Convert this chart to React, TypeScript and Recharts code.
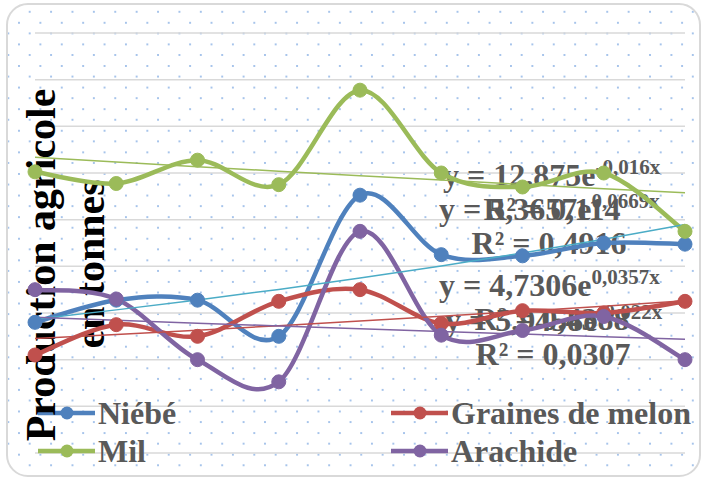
import React from 'react';
import { LineChart, Line, XAxis, YAxis, CartesianGrid, Customized } from 'recharts';

// ---- data ----
const categories = ['1', '2', '3', '4', '5', '6', '7', '8', '9'];
const niebe = [5.6, 6.55, 6.55, 5.0, 11.05, 8.5, 8.45, 9.0, 8.95];
const graines = [4.2, 5.5, 5.0, 6.5, 7.0, 5.55, 6.1, 6.0, 6.5];
const mil = [12.05, 11.55, 12.55, 11.5, 15.55, 12.0, 11.4, 12.0, 9.5];
const arachide = [7.0, 6.6, 4.0, 3.05, 9.5, 5.05, 5.25, 5.85, 4.0];

const seriesNames = ['Niébé', 'Graines de melon', 'Mil', 'Arachide'];
const seriesKeys = ['niebe', 'graines', 'mil', 'arachide'];
const seriesColors = ['#4F81BD', '#C0504D', '#9BBB59', '#8064A2'];
const trendColors = ['#4BACC6', '#C0504D', '#9BBB59', '#8064A2'];
// exponential trend coefficients (y = a e^(b x)) as displayed on the chart
const trendA = [5.3657, 4.7306, 12.875, 5.9458];
const trendB = [0.0669, 0.0357, -0.016, -0.022];
const trendEqMain = ['y = 5,3657e', 'y = 4,7306e', 'y = 12,875e', 'y = 5,9458e'];
const trendEqSup = ['0,0669x', '0,0357x', '-0,016x', '-0,022x'];
const trendR2 = ['R² = 0,4916', 'R² = 0,4388', 'R² = 0,114', 'R² = 0,0307'];
const yTicks = [0, 2, 4, 6, 8, 10, 12, 14, 16, 18];
const axisTitle = ['Production agricole', 'en tonnes'];

const values = [niebe, graines, mil, arachide];
const data = categories.map((c, i) => {
  const row: any = { cat: c };
  seriesKeys.forEach((k, s) => {
    row[k] = values[s][i];
    row[k + 'Trend'] = trendA[s] * Math.exp(trendB[s] * (i + 1));
  });
  return row;
});

// Excel-like smoothing (Catmull-Rom through the points)
const excelSmooth = (context: any) => {
  let pts: number[][] = [];
  return {
    areaStart() {},
    areaEnd() {},
    lineStart() {
      pts = [];
    },
    point(x: number, y: number) {
      pts.push([+x, +y]);
    },
    lineEnd() {
      const n = pts.length;
      if (!n) return;
      context.moveTo(pts[0][0], pts[0][1]);
      for (let i = 0; i < n - 1; i++) {
        const p0 = pts[i - 1] || pts[i];
        const p1 = pts[i];
        const p2 = pts[i + 1];
        const p3 = pts[i + 2] || pts[i + 1];
        context.bezierCurveTo(
          p1[0] + (p2[0] - p0[0]) / 6,
          p1[1] + (p2[1] - p0[1]) / 6,
          p2[0] - (p3[0] - p1[0]) / 6,
          p2[1] - (p3[1] - p1[1]) / 6,
          p2[0],
          p2[1]
        );
      }
    },
  };
};

const FONT = "'Liberation Serif', 'Times New Roman', serif";

// label layout
const labelPos = [
  { x: 439, y: 220, cx: 549 },
  { x: 439, y: 296, cx: 552 },
  { x: 443, y: 186, cx: 552 },
  { x: 445, y: 331, cx: 553 },
];
const legendPos = [
  { x: 38, y: 413 },
  { x: 391, y: 413 },
  { x: 38, y: 451 },
  { x: 391, y: 451 },
];

const Overlay = () => (
  <g>
    {/* legend */}
    {seriesNames.map((n, i) => (
      <g key={n}>
        <line x1={legendPos[i].x} x2={legendPos[i].x + 57} y1={legendPos[i].y} y2={legendPos[i].y} stroke={seriesColors[i]} strokeWidth={4.5} />
        <circle cx={legendPos[i].x + 29} cy={legendPos[i].y} r={6.5} fill={seriesColors[i]} />
        <text x={legendPos[i].x + 60} y={legendPos[i].y + 11} fontFamily={FONT} fontSize={32} fontWeight="bold" fill="#595959">
          {n}
        </text>
      </g>
    ))}
    {/* trendline labels */}
    {trendEqMain.map((t, i) => (
      <g key={t} fontFamily={FONT} fontWeight="bold" fill="#595959">
        <text x={labelPos[i].x} y={labelPos[i].y} fontSize={32}>
          {t}
          <tspan dy={-12} fontSize={21}>
            {trendEqSup[i]}
          </tspan>
        </text>
        <text x={labelPos[i].cx} y={labelPos[i].y + 34} fontSize={32} textAnchor="middle">
          {trendR2[i]}
        </text>
      </g>
    ))}
    {/* axis title */}
    <text x={55} y={265} transform="rotate(-90, 55, 265)" textAnchor="middle" fontFamily={FONT} fontSize={42} fontWeight="bold" fill="#000">
      {axisTitle[0]}
    </text>
    <text x={104} y={264} transform="rotate(-90, 104, 264)" textAnchor="middle" fontFamily={FONT} fontSize={42} fontWeight="bold" fill="#000">
      {axisTitle[1]}
    </text>
  </g>
);

const dot = 'rgba(135,175,228,0.95) 0px, rgba(135,175,228,0.7) 0.8px, rgba(135,175,228,0) 1.5px';

export default function App() {
  return (
    <div style={{ position: 'absolute', left: 0, top: 0, width: 706, height: 479, background: '#fff', overflow: 'hidden' }}>
      <div
        style={{
          position: 'absolute',
          left: 6,
          top: 3,
          width: 695,
          height: 474,
          boxSizing: 'border-box',
          border: '2px solid #d9d9d9',
          borderRadius: 22,
          backgroundColor: '#fff',
          backgroundImage: `radial-gradient(circle at center, ${dot}), radial-gradient(circle at center, ${dot})`,
          backgroundSize: '21.4px 21.6px, 21.4px 21.6px',
          backgroundPosition: '-10.4px -4px, 0.3px 7px',
        }}
      />
      <div style={{ position: 'absolute', left: 0, top: 0 }}>
        <LineChart width={706} height={479} data={data} margin={{ top: 33, right: 21, bottom: 26, left: 35 }}>
          <CartesianGrid vertical={false} stroke="#d9d9d9" strokeWidth={1.5} />
          <XAxis dataKey="cat" hide />
          <YAxis domain={[0, 18]} ticks={yTicks} hide />
          {seriesKeys.map((k, i) => (
            <Line
              key={k}
              dataKey={k}
              name={seriesNames[i]}
              type={excelSmooth as any}
              stroke={seriesColors[i]}
              strokeWidth={4.5}
              dot={{ r: 7, fill: seriesColors[i], stroke: seriesColors[i], strokeWidth: 1 }}
              activeDot={false}
              isAnimationActive={false}
            />
          ))}
          {seriesKeys.map((k, i) => (
            <Line
              key={k + 'Trend'}
              dataKey={k + 'Trend'}
              type="linear"
              stroke={trendColors[i]}
              strokeWidth={1.5}
              dot={false}
              activeDot={false}
              legendType="none"
              isAnimationActive={false}
            />
          ))}
          <Customized component={Overlay} />
        </LineChart>
      </div>
    </div>
  );
}
